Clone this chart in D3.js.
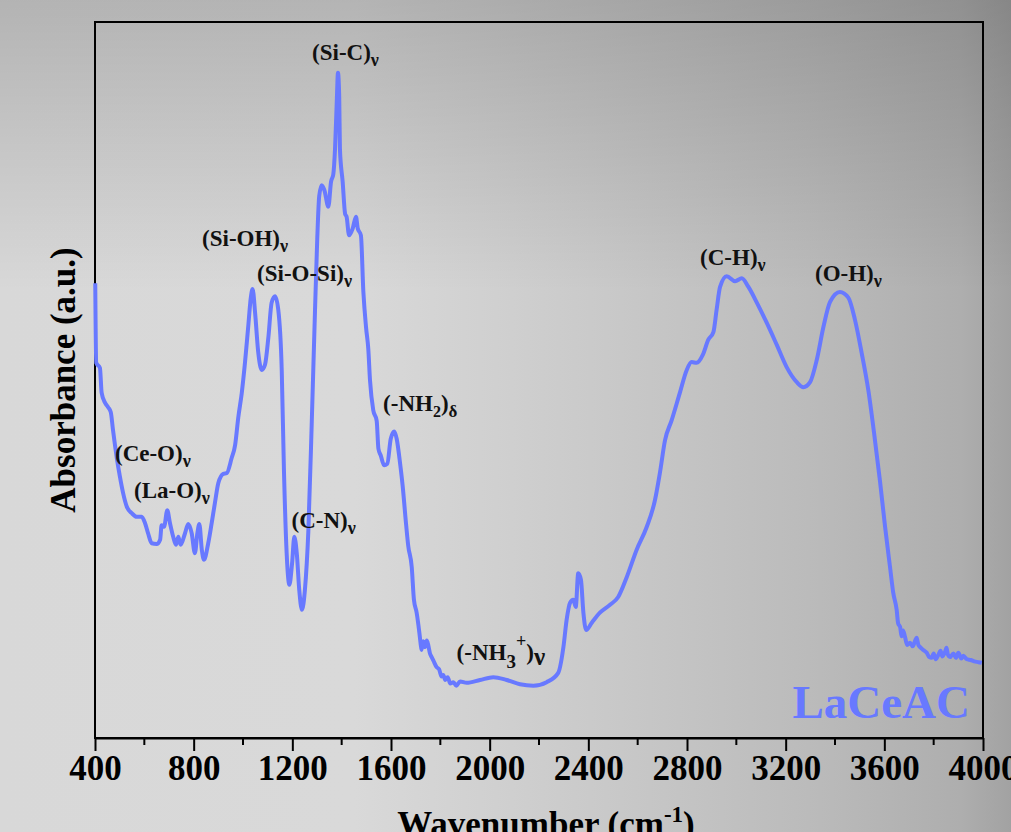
<!DOCTYPE html>
<html>
<head>
<meta charset="utf-8" />
<script src="https://cdn.jsdelivr.net/npm/d3@7"></script>
<style>
    body { margin: 0; background: #d0d0d0; }
    svg { display: block; }
    text { font-family: "Liberation Serif", "Times New Roman", serif; font-weight: bold; }
</style>
</head>
<body>
<svg width="1011" height="832"></svg>
<script>
// FTIR spectrum of LaCeAC
var wavenumber = [401, 405, 420, 427, 441, 453, 464, 473, 488, 501, 514, 529, 549, 569, 589, 603, 615, 630, 650, 664,
    670, 680, 693, 704, 717, 728, 738, 747, 765, 778, 792, 805, 815, 823, 833, 842, 859, 873, 886, 900,
    920, 934, 954, 968, 981, 995, 1008, 1021, 1032, 1039, 1049, 1062, 1076, 1089, 1103, 1116, 1130, 1143, 1157, 1166,
    1177, 1188, 1199, 1208, 1218, 1228, 1239, 1251, 1265, 1279, 1292, 1301, 1309, 1319, 1330, 1346, 1357, 1366, 1373, 1380,
    1385, 1390, 1393, 1404, 1414, 1420, 1430, 1445, 1458, 1465, 1478, 1488, 1499, 1508, 1515, 1528, 1542, 1549, 1559, 1572,
    1585, 1599, 1613, 1623, 1637, 1647, 1661, 1670, 1684, 1693, 1704, 1715, 1720, 1724, 1730, 1738, 1745, 1751, 1758, 1765,
    1772, 1785, 1795, 1805, 1812, 1820, 1830, 1840, 1853, 1865, 1880, 1907, 1961, 2015, 2069, 2123, 2177, 2231, 2278, 2299,
    2312, 2326, 2339, 2349, 2359, 2370, 2380, 2391, 2414, 2447, 2488, 2521, 2556, 2596, 2637, 2670, 2690, 2711, 2738, 2771,
    2799, 2819, 2839, 2864, 2886, 2907, 2920, 2934, 2961, 2995, 3022, 3049, 3083, 3123, 3164, 3204, 3245, 3272, 3299, 3326,
    3353, 3380, 3420, 3454, 3481, 3508, 3535, 3562, 3582, 3603, 3623, 3636, 3650, 3656, 3664, 3670, 3676, 3684, 3692, 3704,
    3715, 3725, 3731, 3738, 3745, 3758, 3772, 3782, 3792, 3800, 3808, 3819, 3828, 3835, 3846, 3852, 3858, 3866, 3880, 3890,
    3900, 3912, 3920, 3934, 3950, 3965, 3980, 3995];

var absorbance = [63.5, 52.4, 51.7, 48.2, 46.8, 46.2, 45.5, 43.0, 39.2, 36.5, 34.2, 32.3, 31.4, 30.9, 30.9, 30.0, 28.6, 27.2, 27.1, 27.7,
    29.7, 29.5, 31.8, 30.0, 28.1, 27.0, 28.1, 27.0, 28.6, 29.9, 28.6, 25.8, 28.6, 29.9, 26.3, 24.9, 27.2, 30.0, 32.8, 35.6,
    36.9, 37.0, 39.1, 40.9, 44.8, 48.2, 52.4, 57.4, 61.6, 62.7, 59.4, 53.8, 51.4, 52.1, 56.0, 60.8, 61.7, 59.8, 51.4, 37.4,
    25.8, 21.4, 24.4, 28.1, 25.8, 20.7, 17.9, 20.7, 29.0, 44.4, 59.8, 69.7, 75.7, 77.2, 76.5, 74.2, 77.7, 78.7, 82.2, 88.7,
    92.9, 89.7, 82.2, 77.7, 73.2, 72.8, 70.2, 71.2, 72.8, 71.2, 70.2, 62.3, 57.3, 54.3, 49.9, 45.8, 44.3, 40.4, 39.4, 38.1,
    38.3, 41.8, 42.8, 41.8, 38.3, 35.3, 29.9, 26.8, 23.9, 19.3, 17.5, 14.7, 13.2, 12.3, 13.5, 12.7, 13.6, 13.0, 11.8, 11.3,
    10.8, 9.9, 9.6, 8.6, 8.8, 8.1, 8.5, 7.6, 7.8, 7.3, 7.9, 7.7, 8.1, 8.5, 8.1, 7.5, 7.3, 7.8, 9.1, 12.7,
    16.5, 18.9, 19.3, 18.3, 23.0, 22.1, 17.5, 15.1, 16.1, 17.5, 18.6, 19.7, 22.5, 26.3, 29.5, 33.2, 37.0, 41.6, 44.4, 48.2,
    51.4, 52.5, 52.4, 53.5, 55.6, 56.7, 59.8, 63.0, 64.5, 63.8, 64.2, 63.0, 60.8, 58.0, 54.9, 51.8, 49.7, 49.0, 49.7, 52.8,
    57.4, 60.9, 62.3, 61.5, 58.4, 53.8, 48.6, 41.6, 36.0, 29.5, 23.9, 20.3, 17.9, 16.0, 15.5, 14.2, 15.0, 14.1, 13.0, 13.3,
    12.8, 13.6, 14.0, 13.0, 12.7, 12.3, 11.9, 11.3, 11.2, 11.8, 11.0, 11.6, 12.2, 11.4, 12.0, 12.6, 11.6, 11.3, 11.8, 11.2,
    11.9, 11.1, 11.5, 11.0, 10.9, 10.7, 10.6, 10.5];

var xTicks = [400, 800, 1200, 1600, 2000, 2400, 2800, 3200, 3600, 4000];
var xMinorTicks = [600, 1000, 1400, 1800, 2200, 2600, 3000, 3400, 3800];

// band assignments: anchor (wavenumber, absorbance) of text start / baseline
var bandNames = ["Si-C", "Si-OH", "Si-O-Si", "Ce-O", "La-O", "C-N", "-NH2", "-NH3+", "C-H", "O-H"];
var bandWn = [1280, 834, 1057, 481, 558, 1197, 1568, 1866, 2853, 3319];
var bandAbs = [94.7, 68.7, 63.8, 38.7, 33.5, 29.3, 45.7, 10.9, 66.1, 63.8];

var svg = d3.select("svg"),
    width = +svg.attr("width"),
    height = +svg.attr("height");

var margin = {left: 95, right: 28, top: 22, bottom: 94};

var x = d3.scaleLinear().domain([400, 4000]).range([margin.left, width - margin.right]);
var y = d3.scaleLinear().domain([0, 100]).range([height - margin.bottom, margin.top]);

// background
var defs = svg.append("defs");
var gh = defs.append("linearGradient").attr("id", "bgH").attr("x1", 0).attr("x2", 1).attr("y1", 0).attr("y2", 0);
[[0, "#d8d8d8"], [0.35, "#d9d9d9"], [0.6, "#c9c9c9"], [0.8, "#bbbbbb"], [0.95, "#aeaeae"], [1, "#a2a2a2"]].forEach(function (s) {
    gh.append("stop").attr("offset", s[0]).attr("stop-color", s[1]);
});
var gv = defs.append("linearGradient").attr("id", "bgV").attr("x1", 0).attr("x2", 0).attr("y1", 0).attr("y2", 1);
[[0, 0.17], [0.35, 0], [1, 0]].forEach(function (s) {
    gv.append("stop").attr("offset", s[0]).attr("stop-color", "#000").attr("stop-opacity", s[1]);
});
svg.append("rect").attr("width", width).attr("height", height).attr("fill", "url(#bgH)");
svg.append("rect").attr("width", width).attr("height", height).attr("fill", "url(#bgV)");

// frame
svg.append("rect")
    .attr("x", x(400)).attr("y", y(100))
    .attr("width", x(4000) - x(400)).attr("height", y(0) - y(100))
    .attr("fill", "none").attr("stroke", "#000").attr("stroke-width", 2);

// x axis
var xAxis = svg.append("g")
    .attr("transform", "translate(0," + y(0) + ")")
    .call(d3.axisBottom(x).tickValues(xTicks).tickFormat(d3.format("d")).tickSize(13).tickSizeOuter(0).tickPadding(4));
xAxis.select(".domain").attr("stroke-width", 2);
xAxis.selectAll(".tick line").attr("stroke-width", 2);
xAxis.selectAll(".tick text")
    .attr("font-family", "Liberation Serif, serif")
    .attr("font-weight", "bold")
    .attr("font-size", 35)
    .attr("fill", "#000");

svg.append("g").selectAll("line")
    .data(xMinorTicks)
    .enter().append("line")
    .attr("x1", function (d) { return x(d); })
    .attr("x2", function (d) { return x(d); })
    .attr("y1", y(0))
    .attr("y2", y(0) + 7)
    .attr("stroke", "#000")
    .attr("stroke-width", 2);

// axis titles
var xt = svg.append("text")
    .attr("x", (x(400) + x(4000)) / 2 + 7)
    .attr("y", 836)
    .attr("text-anchor", "middle")
    .attr("font-size", 35);
xt.append("tspan").text("Wavenumber (cm");
xt.append("tspan").attr("dy", -14).attr("font-size", 23).text("-1");
xt.append("tspan").attr("dy", 14).text(")");

svg.append("text")
    .attr("transform", "translate(75," + ((y(0) + y(100)) / 2) + ") rotate(-90)")
    .attr("text-anchor", "middle")
    .attr("font-size", 35)
    .text("Absorbance (a.u.)");

// spectrum
var points = wavenumber.map(function (d, i) { return [d, absorbance[i]]; });
var line = d3.line()
    .x(function (d) { return x(d[0]); })
    .y(function (d) { return y(d[1]); })
    .curve(d3.curveMonotoneX);

svg.append("path")
    .datum(points)
    .attr("d", line)
    .attr("fill", "none")
    .attr("stroke", "#6879ff")
    .attr("stroke-width", 4)
    .attr("stroke-linejoin", "round");

// band labels
function labelParts(name) {
    if (name === "-NH2") return [["(-NH", 0, 23], ["2", 6, 16], [")", -6, 23], ["δ", 6, 17]];
    if (name === "-NH3+") return [["(-NH", 0, 23], ["3", 8, 19], ["+", -21, 18], [")", 13, 23], ["ν", 5, 25]];
    return [["(" + name + ")", 0, 23], ["ν", 6, 18]];
}

bandNames.forEach(function (name, i) {
    var t = svg.append("text")
        .attr("x", x(bandWn[i]))
        .attr("y", y(bandAbs[i]))
        .attr("fill", "#111");
    labelParts(name).forEach(function (p) {
        t.append("tspan").attr("dy", p[1]).attr("font-size", p[2]).text(p[0]);
    });
});

svg.append("text")
    .attr("x", x(3947))
    .attr("y", y(2.8))
    .attr("text-anchor", "end")
    .attr("font-size", 47)
    .attr("fill", "#6879ff")
    .text("LaCeAC");
</script>
</body>
</html>
